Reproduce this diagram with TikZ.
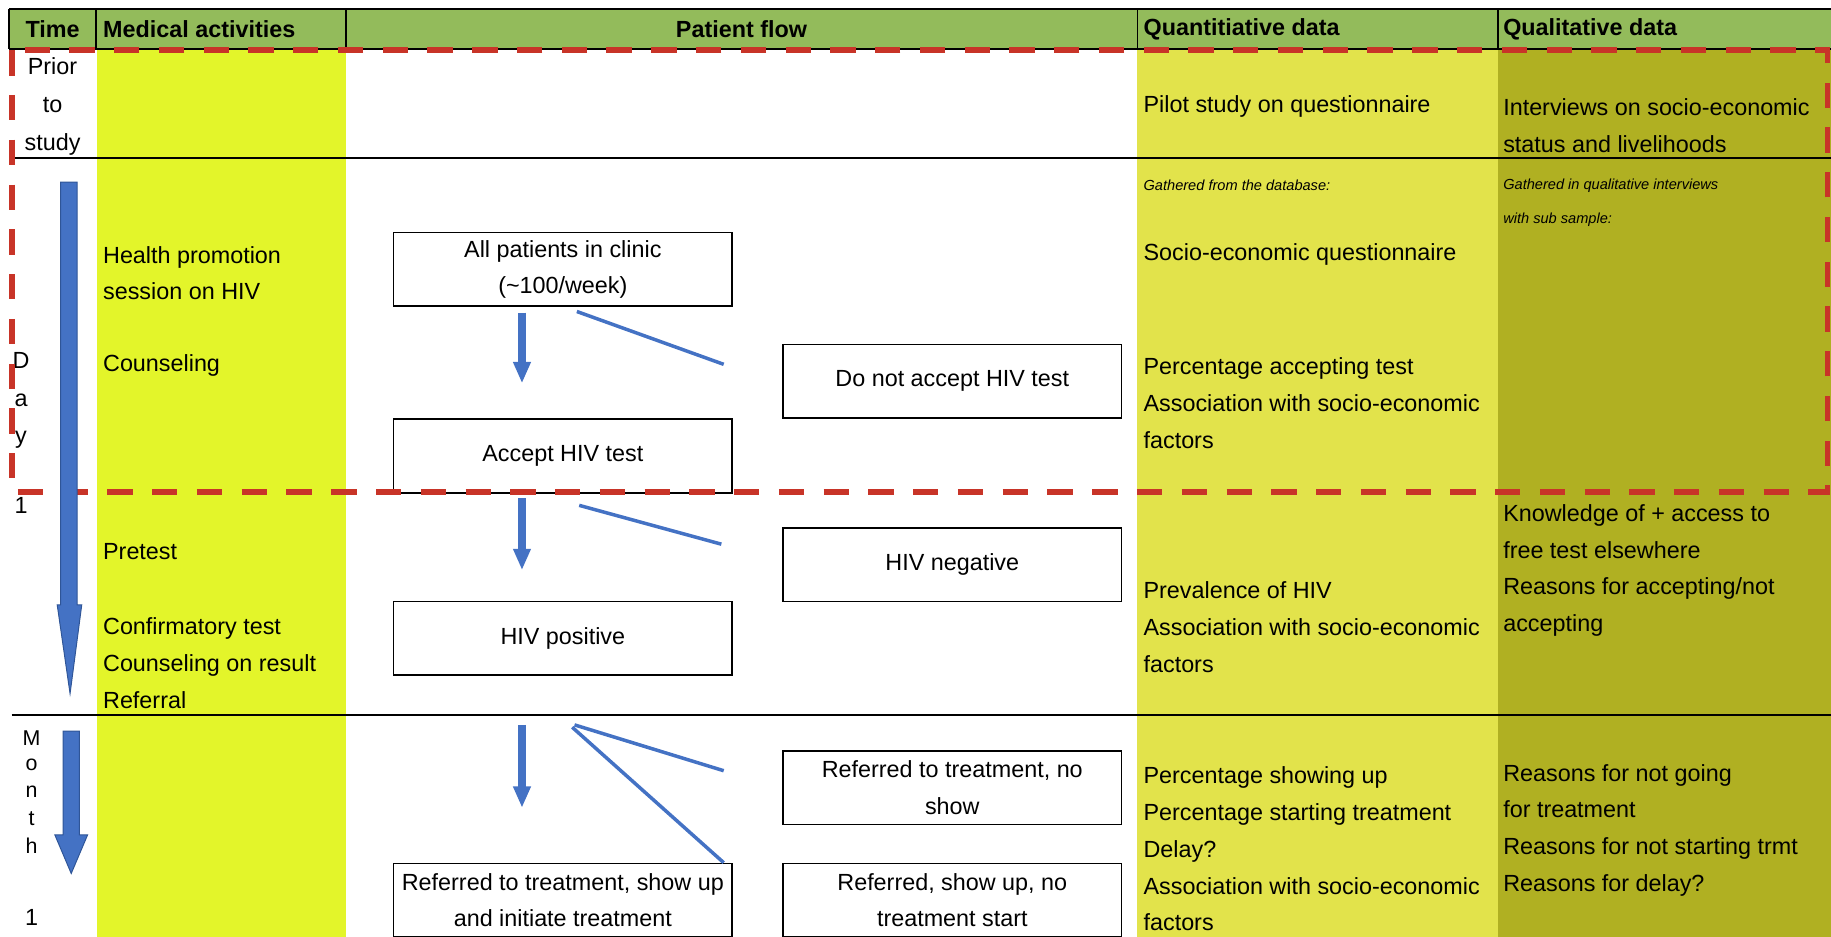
\documentclass[tikz,border=0pt]{standalone}
\usepackage{fontspec}
\setmainfont{Liberation Sans}
\usetikzlibrary{arrows.meta,calc}

\definecolor{hdrgreen}{RGB}{147,187,91}
\definecolor{medyellow}{RGB}{227,245,42}
\definecolor{quanyellow}{RGB}{226,227,75}
\definecolor{qualolive}{RGB}{176,176,34}
\definecolor{studyred}{RGB}{200,52,40}
\definecolor{flowblue}{RGB}{68,114,196}
\definecolor{flowedge}{RGB}{47,85,151}

\tikzset{
  rule/.style={draw=black, line width=0.9pt},
  hdr/.style={font=\bfseries\fontsize{12}{14}\selectfont, inner sep=0pt},
  txt/.style={anchor=west, align=left, inner sep=0pt,
    font=\fontsize{12}{18.9}\selectfont},
  note/.style={anchor=west, align=left, inner sep=0pt,
    font=\itshape\fontsize{7.5}{17.4}\selectfont},
  letter/.style={inner sep=0pt, font=\fontsize{12}{14}\selectfont},
  flowbox/.style={draw, line width=0.9pt, fill=white, align=center,
    minimum width=174pt, minimum height=37.8pt, inner sep=2pt,
    font=\fontsize{12}{18.5}\selectfont},
  flowarrow/.style={draw=flowblue, line width=4pt,
    -{Triangle[length=11pt,width=8.5pt]}},
  flowline/.style={draw=flowblue, line width=1.8pt},
  bigarrow/.style={fill=flowblue, draw=flowedge, line width=0.5pt},
  studyline/.style={draw=studyred, line width=3pt,
    dash pattern=on 13pt off 10pt}
}

\begin{document}
\begin{tikzpicture}[x=0.6pt,y=-0.6pt]
\useasboundingbox (0,0) rectangle (1568,802);

% column fills
\fill[medyellow] (83,43) rectangle (296,802);
\fill[quanyellow] (974,43) rectangle (1283,802);
\fill[qualolive] (1283,43) rectangle (1568,802);

% header
\fill[hdrgreen] (8,8) rectangle (1568,42);
\draw[rule] (8,8) -- (1568,8) (8,42) -- (1568,42);
\foreach \x in {8,82,296,974,1283} {
  \draw[rule] (\x,8) -- (\x,42);
}
\node[hdr] (hTime) at (45,25) {Time};
\node[hdr,anchor=west] (hMed) at (88,25) {Medical activities};
\node[hdr] (hFlow) at (635,25) {Patient flow};
\node[hdr,anchor=west] (hQuan) at (979,25) {Quantitiative data};
\node[hdr,anchor=west] (hQual) at (1287,25) {Qualitative data};

% row lines
\draw[rule] (10,135) -- (1568,135);
\draw[rule] (10,612) -- (1568,612);

% time column
\node[letter,align=center,font=\fontsize{12}{19.5}\selectfont] (prior) at (45,91) {Prior\\to\\study};
\foreach \ch [count=\i] in {D,a,y} {
  \node[letter] (day\i) at (18,275+34*\i) {\ch};
}
\node[letter] (dayNum) at (18,433) {1};
\foreach \ch [count=\i] in {M,o,n,t,h} {
  \node[letter,font=\fontsize{11}{13}\selectfont] (mon\i) at (27,609+23*\i) {\ch};
}
\node[letter] (monNum) at (27,786) {1};

% medical activities
\node[txt] (mHealth) at (88,234) {Health promotion\\session on HIV};
\node[txt] (mCouns) at (88,313) {Counseling};
\node[txt] (mPre) at (88,472) {Pretest};
\node[txt] (mConf) at (88,568) {Confirmatory test\\Counseling on result\\Referral};

% quantitative data
\node[txt] (qPilot) at (979,91) {Pilot study on questionnaire};
\node[note] (qNote) at (979,159) {Gathered from the database:};
\node[txt] (qSocio) at (979,218) {Socio-economic questionnaire};
\node[txt] (qAccept) at (979,345) {Percentage accepting test\\Association with socio-economic\\factors};
\node[txt] (qPrev) at (979,537) {Prevalence of HIV\\Association with socio-economic\\factors};
\node[txt] (qShow) at (979,727) {Percentage showing up\\Percentage starting treatment\\Delay?\\Association with socio-economic\\factors};

% qualitative data
\node[txt] (lInter) at (1287,107.5) {Interviews on socio-economic\\status and livelihoods};
\node[note] (lNote) at (1287,173.5) {Gathered in qualitative interviews\\with sub sample:};
\node[txt] (lKnow) at (1287,488.5) {Knowledge of + access to\\free test elsewhere\\Reasons for accepting/not\\accepting};
\node[txt] (lReas) at (1287,711) {Reasons for not going\\for treatment\\Reasons for not starting trmt\\Reasons for delay?};

% patient flow
\node[flowbox] (b1) at (482,230.5) {All patients in clinic\\(\textasciitilde100/week)};
\node[flowbox] (b2) at (482,390.5) {Accept HIV test};
\node[flowbox] (b3) at (815.5,326.5) {Do not accept HIV test};
\node[flowbox] (b4) at (815.5,483.5) {HIV negative};
\node[flowbox] (b5) at (482,546.5) {HIV positive};
\node[flowbox] (b6) at (815.5,674.5) {Referred to treatment, no\\show};
\node[flowbox] (b7) at (482,771) {Referred to treatment, show up\\and initiate treatment};
\node[flowbox] (b8) at (815.5,771) {Referred, show up, no\\treatment start};

\draw[flowarrow] ($(b1.south)+(-35,5)$) -- ($(b2.north)+(-35,-30)$);
\draw[flowarrow] ($(b2.south)+(-35,4)$) -- ($(b5.north)+(-35,-26)$);
\draw[flowarrow] ($(b5.south)+(-35,42)$) -- ($(b7.north)+(-35,-47)$);
\draw[flowline] ($(b1.south)+(12,4)$) -- ($(b3.west)+(-50,-14.5)$);
\draw[flowline] ($(b2.south)+(14,10)$) -- ($(b4.west)+(-52,-17.5)$);
\draw[flowline] ($(b5.south)+(10,42)$) -- ($(b6.west)+(-50,-14.5)$);
\draw[flowline] ($(b5.south)+(8,44)$) -- ($(b8.north west)+(-50,0)$);

% study period
\draw[studyline] (10,43) rectangle (1565,421);

% time arrows
\draw[bigarrow] (52,156) -- (66,156) -- (66,518) -- (70,518) -- (60,594)
  -- (49,518) -- (52,518) -- cycle;
\draw[bigarrow] (54,626) -- (68,626) -- (68,715) -- (75,715) -- (61,748)
  -- (47,715) -- (54,715) -- cycle;
\end{tikzpicture}
\end{document}
